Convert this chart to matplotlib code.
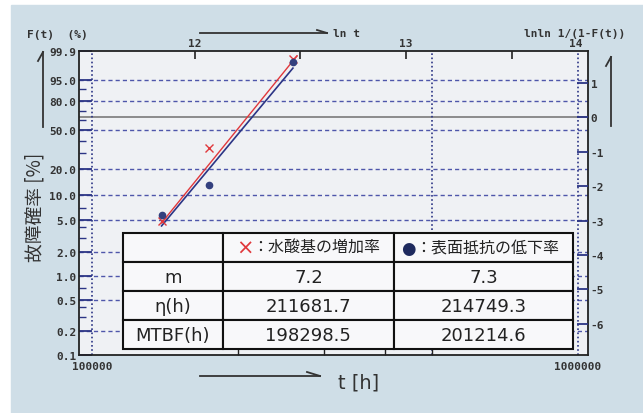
import numpy as np
import matplotlib
matplotlib.use("Agg")
import matplotlib.pyplot as plt
from matplotlib.lines import Line2D
from matplotlib.patches import Rectangle
from matplotlib.ticker import NullLocator, NullFormatter, FixedLocator, FixedFormatter

# data
red_t = [139000, 174000, 259000]        # × : 水酸基の増加率
red_F = [4.8, 33.8, 99.58]
blue_t = [139000, 174000, 259000]       # ● : 表面抵抗の低下率
blue_F = [5.7, 13.1, 99.33]
red_fit_t = [139000, 264000]
red_fit_F = [4.55, 99.75]
blue_fit_t = [139000, 259000]
blue_fit_F = [4.18, 98.5]

f_ticks = [99.9, 95.0, 80.0, 50.0, 20.0, 10.0, 5.0, 2.0, 1.0, 0.5, 0.2, 0.1]
f_grid = [95.0, 80.0, 50.0, 20.0, 10.0, 5.0, 2.0, 1.0, 0.5, 0.2]
f_minor = [90, 70, 60, 40, 30, 7, 4, 3, 0.7, 0.4, 0.3]
lnln_ticks = [1, 0, -1, -2, -3, -4, -5, -6]
lnt_ticks = [12, 12.5, 13, 13.5]
lnt_labels = ["12", "", "13", ""]

row_labels = ["m", "η(h)", "MTBF(h)"]
col_names = ["：水酸基の増加率", "：表面抵抗の低下率"]
red_vals = ["7.2", "211681.7", "198298.5"]
blue_vals = ["7.3", "214749.3", "201214.6"]

W, H = 643, 414
MONO = dict(family="DejaVu Sans Mono", fontsize=8, fontweight="bold", color="#333333")
NAVY = "#2c3585"
RED = "#e0383c"


def lnln(F):
    F = np.asarray(F, dtype=float) / 100.0
    return np.log(-np.log(1.0 - F))


def px(x, y):
    return x / W, 1 - y / H


fig = plt.figure(figsize=(W / 100, H / 100), dpi=100, facecolor="white")
fig.add_artist(Rectangle(px(11, 414), (W - 11) / W, (414 - 6) / H,
                         transform=fig.transFigure, color="#cfdee7", zorder=-10))

ax = fig.add_axes([79 / W, 1 - 356 / H, (588 - 79) / W, (356 - 52) / H])
ax.set_facecolor("#eff1f4")
ax.set_xscale("log")
ax.set_xlim(94000, 1.048e6)
ax.set_ylim(lnln(0.1), lnln(99.9))
for s in ax.spines.values():
    s.set_color("#222222")
    s.set_linewidth(1.3)

# grid
for f in f_grid:
    ax.axhline(lnln(f), color="#4e56aa", lw=1.0, ls=(0, (3, 2.2)), zorder=1)
ax.axhline(0, color="#7a7a7a", lw=1.2, zorder=1)
for t in [1e5, 5e5, 1e6]:
    ax.axvline(t, color=NAVY, lw=1.2, ls=(0, (1, 1.5)), zorder=1)

# left axis: F(t)
ax.set_yticks(lnln(f_ticks))
ax.set_yticklabels(["%.1f" % f for f in f_ticks], **MONO)
ax.set_yticks(lnln(f_minor), minor=True)
ax.tick_params(axis="y", which="major", direction="in", length=9, color=NAVY, width=1.3, pad=2)
ax.tick_params(axis="y", which="minor", direction="in", length=5, color=NAVY, width=1.0)

# bottom axis: t
ax.set_xticks([1e5, 1e6])
ax.set_xticklabels(["100000", "1000000"], **MONO)
ax.set_xticks([2e5, 3e5, 4e5, 5e5], minor=True)
ax.xaxis.set_minor_formatter(NullFormatter())
ax.tick_params(axis="x", which="major", length=0, pad=4)
ax.tick_params(axis="x", which="minor", direction="in", length=6, color="#222222", width=1.0)

# right axis: lnln 1/(1-F)
ax2 = ax.twinx()
ax2.set_ylim(ax.get_ylim())
ax2.set_yticks(lnln_ticks)
ax2.set_yticklabels([str(v) for v in lnln_ticks], **MONO)
ax2.yaxis.set_minor_locator(NullLocator())
ax2.tick_params(axis="y", direction="in", length=8, color=NAVY, width=1.3, pad=2)
for s in ax2.spines.values():
    s.set_visible(False)

# top axis: ln t
top = ax.secondary_xaxis("top", functions=(np.log, np.exp))
top.xaxis.set_major_locator(FixedLocator(lnt_ticks))
top.xaxis.set_major_formatter(FixedFormatter(lnt_labels))
top.xaxis.set_minor_locator(NullLocator())
top.xaxis.set_minor_formatter(NullFormatter())
for lab in top.get_xticklabels():
    lab.set(**MONO)
top.tick_params(direction="in", length=6, color="#222222", width=1.2, pad=2,
                labelsize=8)
top.spines["top"].set_visible(False)
fig.text(*px(576, 44), "14", ha="center", va="center", **MONO)

# data and fitted lines
ax.plot(red_fit_t, lnln(red_fit_F), color=RED, lw=1.0, zorder=3)
ax.plot(blue_fit_t, lnln(blue_fit_F), color=NAVY, lw=1.2, zorder=3)
ax.plot(red_t, lnln(red_F), ls="none", marker="x", ms=6, mew=1.0, color=RED, zorder=4)
ax.plot(blue_t, lnln(blue_F), ls="none", marker="o", ms=4.5, color="#33407e", zorder=4)

# parameter table
bx, by, bw, bh = 0.0864, 0.0197, 0.8841, 0.3816
col_w = [0.222, 0.380, 0.398]
cells = [["", "", ""]] + [[r, a, b] for r, a, b in zip(row_labels, red_vals, blue_vals)]
tab = ax.table(cellText=cells, colWidths=col_w, cellLoc="center",
               bbox=[bx, by, bw, bh], zorder=5)
tab.auto_set_font_size(False)
for (r, c), cell in tab.get_celld().items():
    cell.set_facecolor("#f8f8fa")
    cell.set_edgecolor("#111111")
    cell.set_linewidth(1.5)
    cell.get_text().set_fontsize(13)
    cell.get_text().set_color("#222222")
    cell.get_text().set_family("DejaVu Sans")

hy = by + bh * 7 / 8
c1 = bx + bw * col_w[0]
c2 = c1 + bw * col_w[1]
ax.text(c1 + 0.043, hy, "×", color=RED, fontsize=15, ha="center", va="center",
        transform=ax.transAxes, zorder=6)
ax.text(c1 + 0.058, hy, col_names[0], family="Noto Sans CJK JP", fontsize=11.5,
        color="#222222", ha="left", va="center", transform=ax.transAxes, zorder=6)
ax.text(c2 + 0.028, hy, "●", color="#1e2a5e", fontsize=12, ha="center", va="center",
        transform=ax.transAxes, zorder=6)
ax.text(c2 + 0.041, hy, col_names[1], family="Noto Sans CJK JP", fontsize=11.5,
        color="#222222", ha="left", va="center", transform=ax.transAxes, zorder=6)

# axis captions and arrows
fig.text(*px(27, 35), "F(t)  (%)", ha="left", va="center", **MONO)
fig.text(*px(333, 34), "ln t", ha="left", va="center", **MONO)
fig.text(*px(524, 34), "lnln 1/(1-F(t))", ha="left", va="center", **MONO)
fig.text(*px(35, 207), "故障確率 [%]", family="Noto Sans CJK JP", fontsize=13.5,
         color="#333333", rotation=90, ha="center", va="center")
fig.text(*px(338, 383), "t [h]", family="DejaVu Sans", fontsize=14,
         color="#333333", ha="left", va="center")


def seg(x0, y0, x1, y1, lw=1.3):
    (a, b), (c, d) = px(x0, y0), px(x1, y1)
    fig.add_artist(Line2D([a, c], [b, d], transform=fig.transFigure,
                          color="#333333", lw=lw))


seg(43, 128, 43, 53)
seg(43, 53, 38, 62)
seg(611, 127, 611, 58)
seg(611, 58, 606, 67)
seg(200, 34, 327, 34)
seg(327, 34, 317, 31)
seg(200, 377, 320, 377)
seg(320, 377, 307, 373)

fig.savefig("out.png", dpi=100, facecolor=fig.get_facecolor())
